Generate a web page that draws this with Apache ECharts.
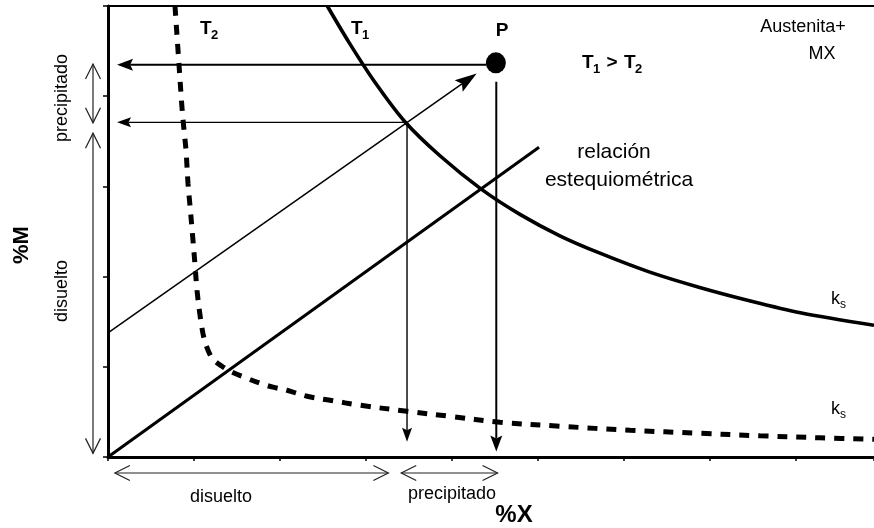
<!DOCTYPE html>
<html>
<head>
<meta charset="utf-8">
<script src="https://cdn.jsdelivr.net/npm/echarts@6/dist/echarts.min.js"></script>
<style>
  html, body { margin: 0; padding: 0; background: #fff; }
  #chart { width: 874px; height: 528px; }
</style>
</head>
<body>
<div id="chart"></div>
<script>
// Solubility product curves of MX in austenite (%M against %X)

// Axis extents (in tick units)
const xMax = 8.907;
const yMax = 5;
const tickStep = 1;

// Solubility curve at T1 (higher temperature)
const curveT1 = [
  [2.55, 5.0], [2.80, 4.60], [3.10, 4.16], [3.45, 3.72], [3.86, 3.34],
  [4.34, 2.97], [4.79, 2.69], [5.26, 2.45], [5.72, 2.26], [6.30, 2.05],
  [6.88, 1.88], [7.47, 1.73], [8.05, 1.60], [8.907, 1.46]
];

// Solubility curve at T2 (lower temperature)
const curveT2 = [
  [0.779, 5.0], [0.826, 4.345], [0.860, 3.879], [0.884, 3.624], [0.907, 3.402],
  [0.930, 3.036], [0.953, 2.792], [0.988, 2.404], [1.012, 2.127], [1.035, 1.849],
  [1.070, 1.572], [1.116, 1.317], [1.163, 1.184], [1.221, 1.084], [1.326, 1.006],
  [1.442, 0.940], [1.616, 0.873], [1.767, 0.818], [1.919, 0.774], [2.081, 0.740],
  [2.314, 0.673], [2.581, 0.629], [2.930, 0.574], [3.477, 0.507], [3.977, 0.451],
  [4.558, 0.385], [5.256, 0.341], [6.070, 0.296], [6.884, 0.263], [7.581, 0.235],
  [8.279, 0.213], [8.907, 0.196]
];

// Stoichiometric relation M:X
const stoichLine = [[0, 0], [5.012, 3.434]];

// Alloy composition P
const pointP = [[4.51, 4.37]];

// Arrows [xFrom, yFrom, xTo, yTo]
const heavyArrows = [
  [4.40, 4.35, 0.105, 4.35],
  [4.515, 4.16, 4.515, 0.06]
];
const lightArrows = [
  [3.477, 3.71, 0.105, 3.71],
  [3.477, 3.71, 3.477, 0.17],
  [0, 1.376, 4.287, 4.253]
];

// Double-headed ranges along the axes [from, to]
const mRanges = [[3.705, 4.356], [0.04, 3.59]];
const xRanges = [[0.08, 3.26], [3.41, 4.53]];

const chart = echarts.init(document.getElementById('chart'), null, { renderer: 'canvas' });
const FONT = '"Liberation Sans", Arial, Helvetica, sans-serif';

function headedArrow(p1, p2, lw, headLen, headHalf, color) {
  const dx = p2[0] - p1[0], dy = p2[1] - p1[1];
  const L = Math.hypot(dx, dy);
  const ux = dx / L, uy = dy / L, nx = -uy, ny = ux;
  const bx = p2[0] - ux * headLen, by = p2[1] - uy * headLen;
  const notch = [p2[0] - ux * headLen * 0.82, p2[1] - uy * headLen * 0.82];
  return {
    type: 'group',
    children: [
      { type: 'line', shape: { x1: p1[0], y1: p1[1], x2: notch[0], y2: notch[1] },
        style: { stroke: color, lineWidth: lw } },
      { type: 'polygon', shape: { points: [p2, [bx + nx * headHalf, by + ny * headHalf], notch, [bx - nx * headHalf, by - ny * headHalf]] },
        style: { fill: color } }
    ]
  };
}

function chevron(tip, dir, len, half, color) {
  const nx = -dir[1], ny = dir[0];
  return {
    type: 'polyline',
    shape: { points: [
      [tip[0] - dir[0] * len + nx * half, tip[1] - dir[1] * len + ny * half],
      tip,
      [tip[0] - dir[0] * len - nx * half, tip[1] - dir[1] * len - ny * half]
    ] },
    style: { stroke: color, lineWidth: 1.2, fill: null }
  };
}

function rangeArrow(a, b, color) {
  const dx = b[0] - a[0], dy = b[1] - a[1];
  const L = Math.hypot(dx, dy);
  const u = [dx / L, dy / L];
  return {
    type: 'group',
    children: [
      { type: 'line', shape: { x1: a[0], y1: a[1], x2: b[0], y2: b[1] }, style: { stroke: color, lineWidth: 1.2 } },
      chevron(b, u, 15, 7.5, color),
      chevron(a, [-u[0], -u[1]], 15, 7.5, color)
    ]
  };
}

function arrowSeries(data, lw, headLen, headHalf) {
  return {
    type: 'custom', clip: false, silent: true, z: 4,
    data: data,
    renderItem: function (params, api) {
      const p1 = api.coord([api.value(0), api.value(1)]);
      const p2 = api.coord([api.value(2), api.value(3)]);
      return headedArrow(p1, p2, lw, headLen, headHalf, '#000');
    }
  };
}

// Sub-scripted label helper: main text followed by a smaller lowered index
function subLabel(x, y, main, idx, size, subSize, mainWidth, bold) {
  const weight = bold ? 'bold' : 'normal';
  return [
    { type: 'text', x: x, y: y, style: { text: main, font: weight + ' ' + size + 'px ' + FONT, fill: '#000', textAlign: 'left', textVerticalAlign: 'middle' } },
    { type: 'text', x: x + mainWidth, y: y + size * 0.33, style: { text: idx, font: weight + ' ' + subSize + 'px ' + FONT, fill: '#000', textAlign: 'left', textVerticalAlign: 'middle' } }
  ];
}

function plainText(x, y, text, size, bold, rotation) {
  return {
    type: 'text', x: x, y: y, rotation: rotation || 0,
    style: { text: text, font: (bold ? 'bold ' : '') + size + 'px ' + FONT, fill: '#000', textAlign: 'center', textVerticalAlign: 'middle' }
  };
}

const option = {
  animation: false,
  backgroundColor: '#fff',
  grid: { left: 108, right: 0, top: 6, bottom: 71, containLabel: false },
  xAxis: [
    {
      type: 'value', min: 0, max: xMax, interval: tickStep, position: 'bottom',
      axisLine: { show: true, onZero: false, lineStyle: { color: '#000', width: 3 } },
      axisTick: { show: true, inside: false, length: 4, lineStyle: { color: '#000', width: 1.5 } },
      axisLabel: { show: false }, splitLine: { show: false }
    },
    {
      type: 'value', min: 0, max: xMax, position: 'top',
      axisLine: { show: true, onZero: false, lineStyle: { color: '#000', width: 2 } },
      axisTick: { show: false }, axisLabel: { show: false }, splitLine: { show: false }
    }
  ],
  yAxis: {
    type: 'value', min: 0, max: yMax, interval: tickStep,
    axisLine: { show: true, onZero: false, lineStyle: { color: '#000', width: 3 } },
    axisTick: { show: true, inside: false, length: 5, lineStyle: { color: '#000', width: 1.5 } },
    axisLabel: { show: false }, splitLine: { show: false }
  },
  series: [
    {
      name: 'T1', type: 'line', data: curveT1, smooth: 0.3, symbol: 'none', clip: true,
      lineStyle: { color: '#000', width: 3.6 }, z: 3
    },
    {
      name: 'T2', type: 'line', data: curveT2, smooth: 0.35, symbol: 'none', clip: true,
      lineStyle: { color: '#000', width: 5, type: [10, 9] }, z: 3
    },
    {
      name: 'estequiometrica', type: 'line', data: stoichLine, symbol: 'none',
      lineStyle: { color: '#000', width: 3 }, z: 3
    },
    {
      name: 'P', type: 'scatter', data: pointP, symbol: 'circle', symbolSize: [20, 21],
      itemStyle: { color: '#000', opacity: 1 }, z: 5
    },
    arrowSeries(heavyArrows, 2, 16, 6),
    arrowSeries(lightArrows.slice(0, 2), 1.4, 14, 5),
    arrowSeries(lightArrows.slice(2), 1.5, 22, 7),
    {
      type: 'custom', clip: false, silent: true, z: 4,
      data: mRanges,
      renderItem: function (params, api) {
        const a = api.coord([0, api.value(0)]);
        const b = api.coord([0, api.value(1)]);
        return rangeArrow([a[0] - 15, a[1]], [b[0] - 15, b[1]], '#222');
      }
    },
    {
      type: 'custom', clip: false, silent: true, z: 4,
      data: xRanges,
      renderItem: function (params, api) {
        const a = api.coord([api.value(0), 0]);
        const b = api.coord([api.value(1), 0]);
        return rangeArrow([a[0], a[1] + 16], [b[0], b[1] + 16], '#222');
      }
    }
  ],
  graphic: [
    ...subLabel(200, 29, 'T', '2', 19, 13, 11, true),
    ...subLabel(351, 29, 'T', '1', 19, 13, 11, true),
    plainText(502, 31, 'P', 19, true),
    ...subLabel(582, 63, 'T', '1', 19, 13, 11, true),
    plainText(612, 63, '>', 19, true),
    ...subLabel(624, 63, 'T', '2', 19, 13, 11, true),
    plainText(803, 27, 'Austenita+', 18, false),
    plainText(822, 54, 'MX', 18, false),
    plainText(614, 152, 'relación', 21, false),
    plainText(619, 180, 'estequiométrica', 21, false),
    ...subLabel(831, 299, 'k', 's', 18, 12, 9, false),
    ...subLabel(831, 409, 'k', 's', 18, 12, 9, false),
    plainText(22, 245, '%M', 22, true, Math.PI / 2),
    plainText(514, 515, '%X', 24, true),
    plainText(62, 98, 'precipitado', 18, false, Math.PI / 2),
    plainText(62, 291, 'disuelto', 18, false, Math.PI / 2),
    plainText(221, 497, 'disuelto', 18, false),
    plainText(452, 494, 'precipitado', 18, false)
  ]
};

chart.setOption(option);
</script>
</body>
</html>
